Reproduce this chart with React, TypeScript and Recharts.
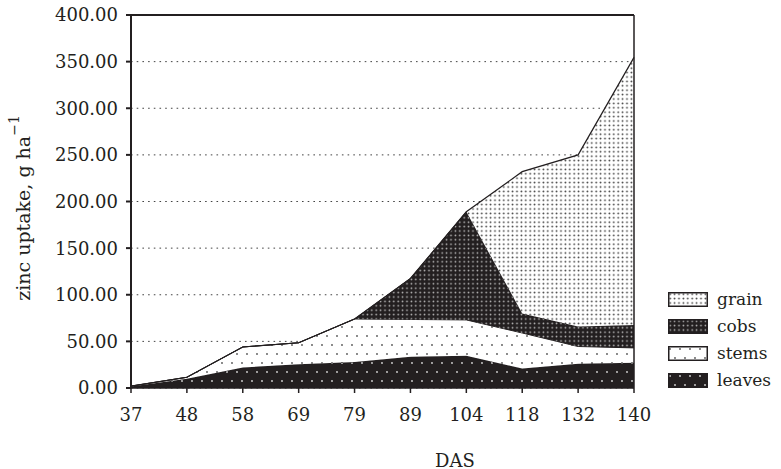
import { AreaChart, Area, XAxis, YAxis, CartesianGrid, Legend, ReferenceLine } from 'recharts';

const das = ['37', '48', '58', '69', '79', '89', '104', '118', '132', '140'];
const leaves = [1.5, 10, 22, 25.5, 28, 33.5, 34.5, 21, 26, 27];
const stems = [0.5, 1.5, 22, 23, 46, 40, 38.5, 38, 18.5, 16];
const cobs = [0, 0, 0, 0, 0, 44, 116, 21, 21.5, 24.6];
const grain = [0, 0, 0, 0, 0, 0, 0, 152, 184, 287];
const yTicks = [0, 50, 100, 150, 200, 250, 300, 350, 400];

const data = das.map((d, i) => ({
  das: d,
  leaves: leaves[i],
  stems: stems[i],
  cobs: cobs[i],
  grain: grain[i],
}));

const INK = '#231f20';
const FONT = '"DejaVu Serif", serif';

const legendItems = [
  { key: 'grain', fill: 'url(#pGrain)' },
  { key: 'cobs', fill: 'url(#pCobs)' },
  { key: 'stems', fill: 'url(#pStems)' },
  { key: 'leaves', fill: 'url(#pLeaves)' },
];

function LegendBox() {
  return (
    <div style={{ fontFamily: FONT, fontSize: 17, color: INK }}>
      {legendItems.map((it) => (
        <div key={it.key} style={{ display: 'flex', alignItems: 'center', height: 27 }}>
          <svg width={40} height={15} style={{ display: 'block', flex: 'none' }}>
            <rect x={0.75} y={0.75} width={38.5} height={13.5} fill={it.fill} stroke={INK} strokeWidth={1.5} />
          </svg>
          <span style={{ marginLeft: 9, lineHeight: '27px', whiteSpace: 'nowrap' }}>{it.key}</span>
        </div>
      ))}
    </div>
  );
}

function YLabel() {
  return (
    <text x={23} y={208} transform="rotate(-90 23 208)" textAnchor="middle" dominantBaseline="central"
      fill={INK} fontFamily={FONT} fontSize={19}>
      zinc uptake, g ha<tspan fontSize={14} dy={-9}>−1</tspan>
    </text>
  );
}

function XLabel() {
  return (
    <text x={455} y={460} textAnchor="middle" dominantBaseline="central" fill={INK} fontFamily={FONT} fontSize={18}>
      DAS
    </text>
  );
}

export default function App() {
  return (
    <div style={{ position: 'absolute', left: 0, top: 0, width: 781, height: 469, background: '#fff' }}>
      <AreaChart width={781} height={469} data={data} margin={{ top: 15, right: 147, bottom: 51, left: 0 }}>
        <defs>
          <pattern id="pLeaves" width="10" height="18" patternUnits="userSpaceOnUse">
            <rect width="10" height="18" fill={INK} />
            <circle cx="2" cy="3" r="0.9" fill="#d8d8d8" />
            <circle cx="7" cy="12" r="0.9" fill="#d8d8d8" />
          </pattern>
          <pattern id="pStems" width="10" height="18" patternUnits="userSpaceOnUse">
            <rect width="10" height="18" fill="#fff" />
            <circle cx="2" cy="3" r="0.9" fill="#555" />
            <circle cx="7" cy="12" r="0.9" fill="#555" />
          </pattern>
          <pattern id="pCobs" width="4.4" height="4.4" patternUnits="userSpaceOnUse">
            <rect width="4.4" height="4.4" fill={INK} />
            <circle cx="2.2" cy="2.2" r="0.85" fill="#bdbdbd" />
          </pattern>
          <pattern id="pGrain" width="4.4" height="4.4" patternUnits="userSpaceOnUse">
            <rect width="4.4" height="4.4" fill="#fff" />
            <circle cx="2.2" cy="2.2" r="0.9" fill="#3a3a3a" />
          </pattern>
        </defs>
        <CartesianGrid vertical={false} stroke="#444" strokeDasharray="1.6 4.1" />
        <XAxis dataKey="das" stroke={INK} strokeWidth={1.5} tickSize={5} tickMargin={15}
          tick={{ fill: INK, fontFamily: FONT, fontSize: 18 }} label={<XLabel />} height={30} />
        <YAxis domain={[0, 400]} ticks={yTicks} width={131} stroke={INK} strokeWidth={2} tickSize={5} tickMargin={8}
          tickFormatter={(v: number) => v.toFixed(2)} tick={{ fill: INK, fontFamily: FONT, fontSize: 18 }}
          label={<YLabel />} />
        <Area type="linear" dataKey="leaves" stackId="1" stroke={INK} strokeWidth={1} fill="url(#pLeaves)" fillOpacity={1} isAnimationActive={false} />
        <Area type="linear" dataKey="stems" stackId="1" stroke={INK} strokeWidth={1} fill="url(#pStems)" fillOpacity={1} isAnimationActive={false} />
        <Area type="linear" dataKey="cobs" stackId="1" stroke={INK} strokeWidth={1} fill="url(#pCobs)" fillOpacity={1} isAnimationActive={false} />
        <Area type="linear" dataKey="grain" stackId="1" stroke={INK} strokeWidth={1.2} fill="url(#pGrain)" fillOpacity={1} isAnimationActive={false} />
        <ReferenceLine y={400} stroke={INK} strokeWidth={2} />
        <ReferenceLine x="140" stroke={INK} strokeWidth={1.5} />
        <Legend layout="vertical" align="center" verticalAlign="middle" content={<LegendBox />}
          wrapperStyle={{ left: 668, top: 286, width: 113 }} />
      </AreaChart>
    </div>
  );
}
